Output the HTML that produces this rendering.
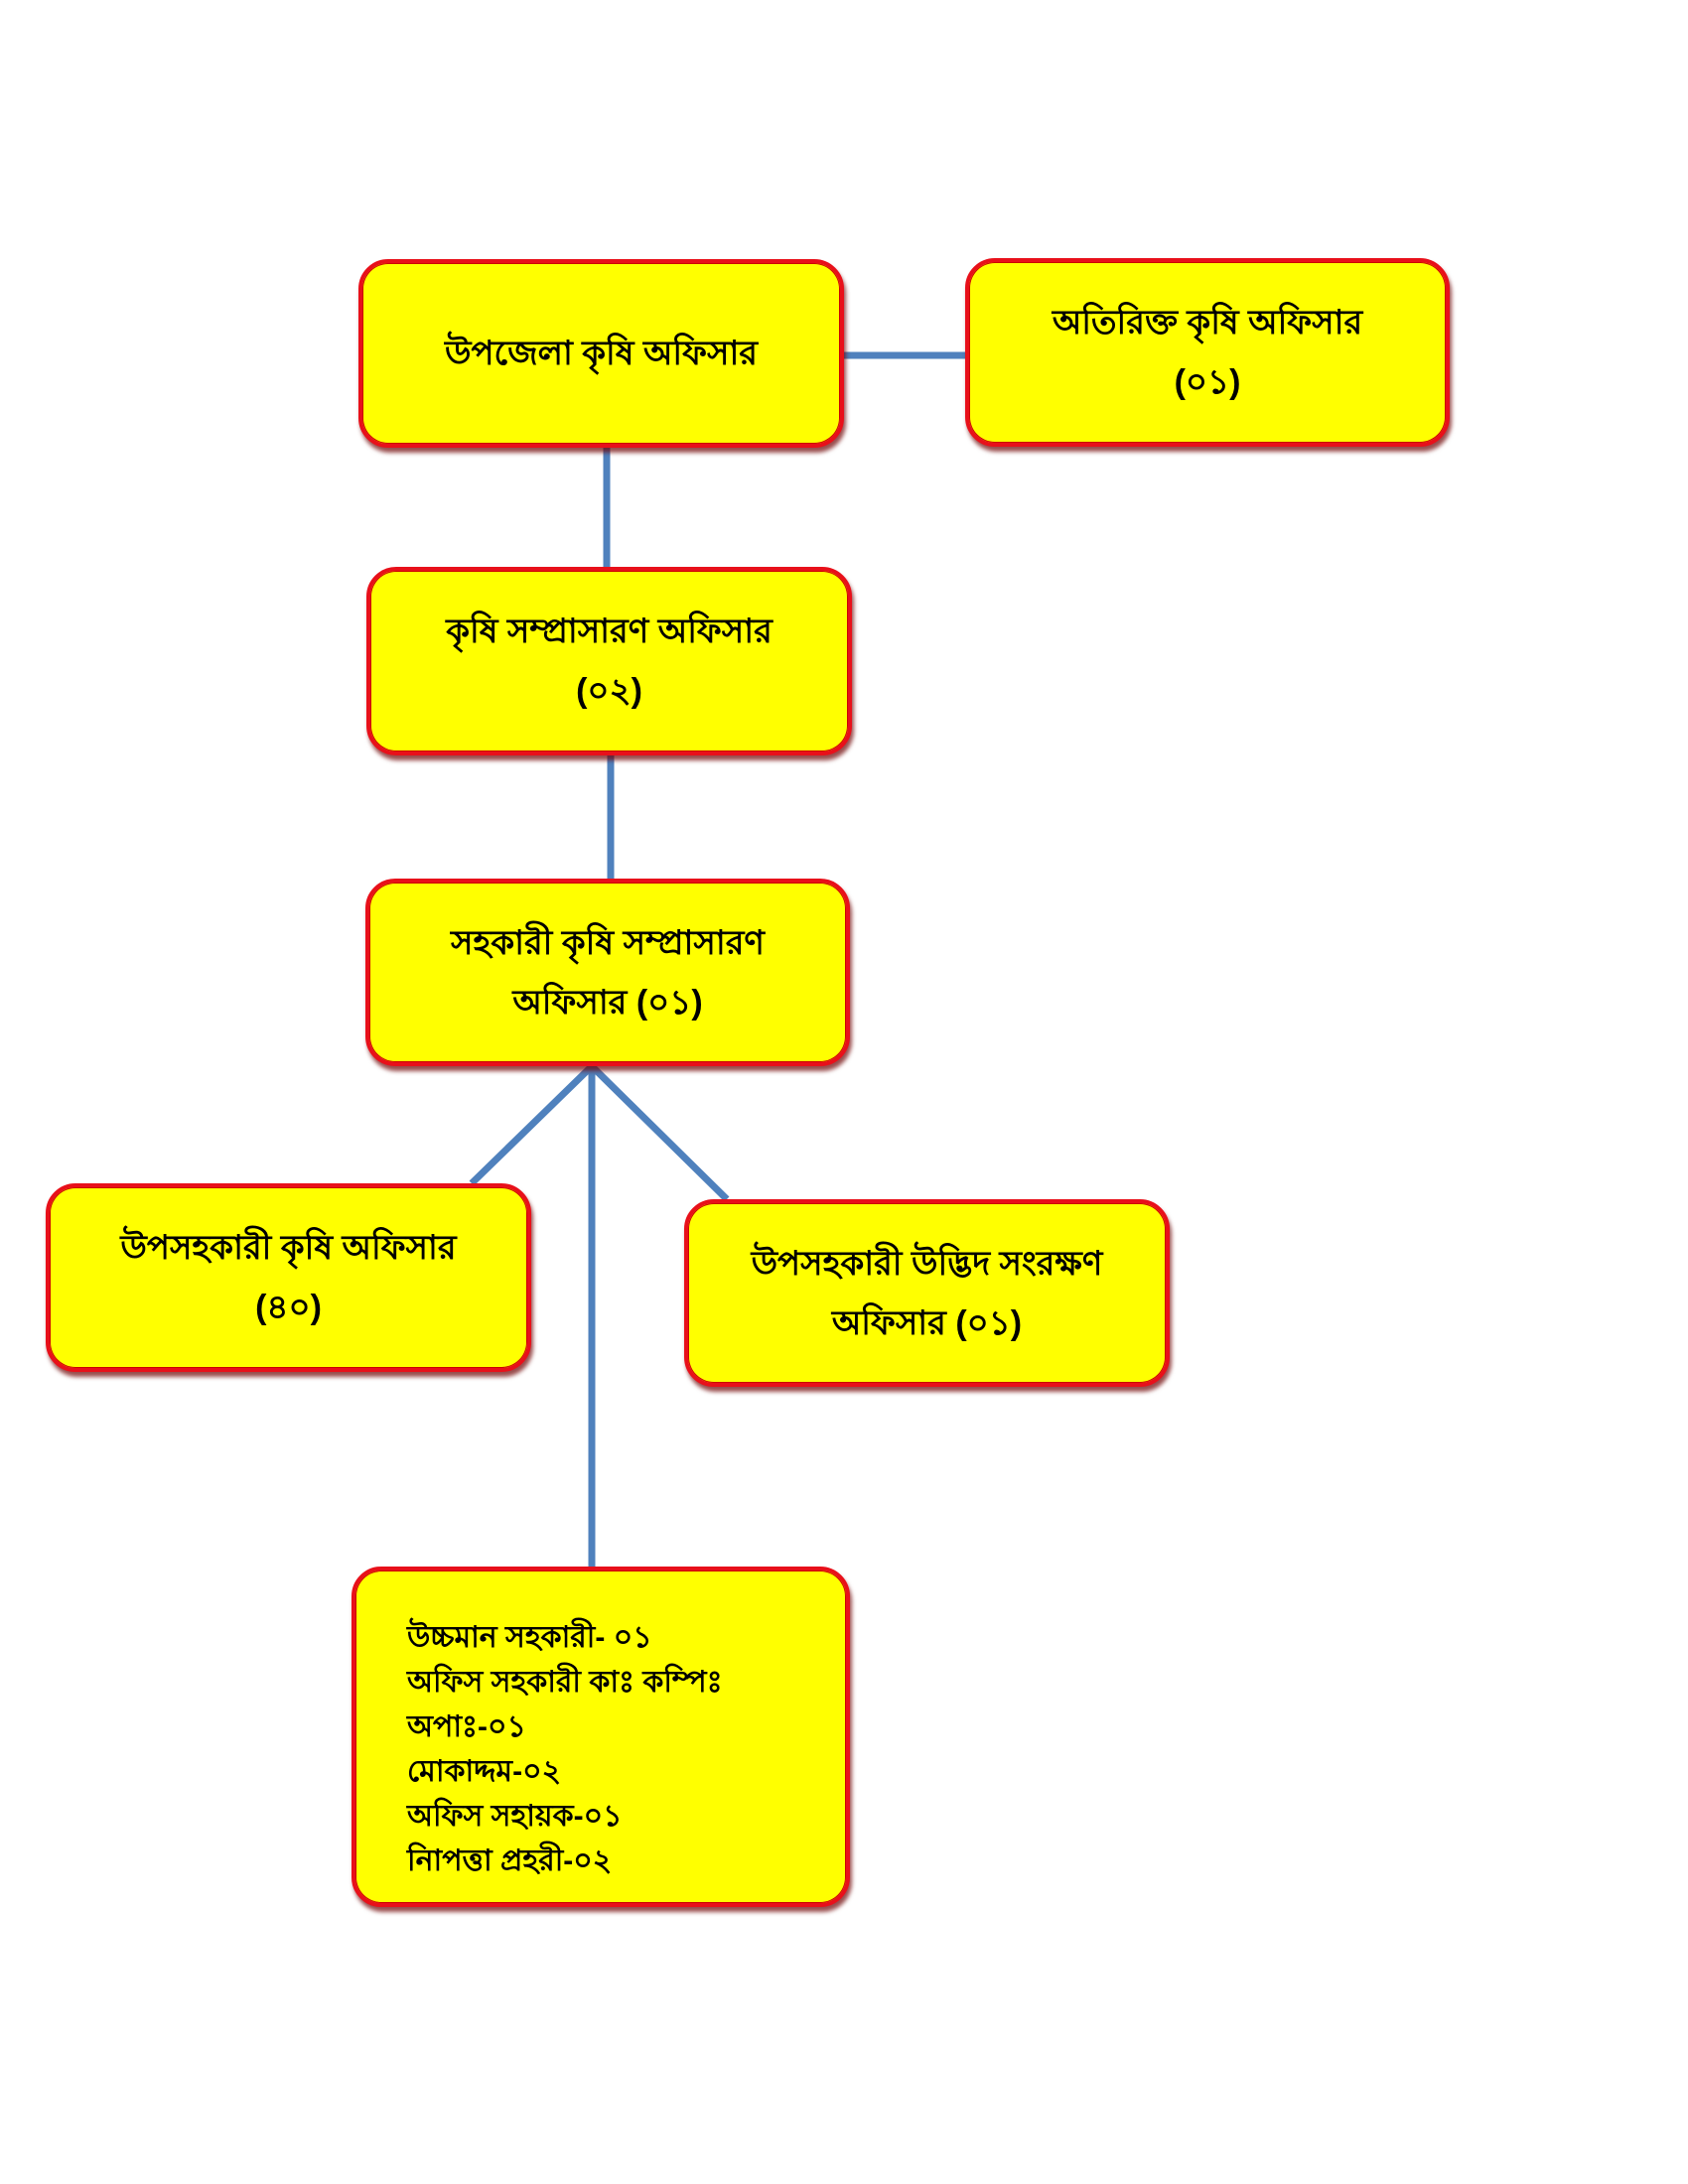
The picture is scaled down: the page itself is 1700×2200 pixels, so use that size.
<!DOCTYPE html>
<html><head><meta charset="utf-8"><style>
html,body{margin:0;padding:0;background:#fff;width:1700px;height:2200px;overflow:hidden;position:relative;font-family:"Liberation Sans","Noto Sans CJK SC",sans-serif;}
.b{position:absolute;box-sizing:border-box;background:#ffff00;border:4px solid #e8101a;border-radius:30px;box-shadow:2px 5px 4px rgba(110,0,0,0.7), inset 0 0 0 1px #c00;display:flex;align-items:center;justify-content:center;text-align:center;font-size:34px;font-weight:bold;line-height:60px;color:#000;}
svg{position:absolute;left:0;top:0;}
</style></head><body>
<svg width="1700" height="2200">
<g stroke="#4f81bd" stroke-width="7" fill="none">
<line x1="850" y1="358" x2="972" y2="358"/>
<line x1="611" y1="451" x2="611" y2="571"/>
<line x1="615" y1="761" x2="615" y2="885"/>
<line x1="596" y1="1074" x2="475" y2="1192"/>
<line x1="596" y1="1074" x2="732" y2="1208"/>
<line x1="596" y1="1074" x2="596" y2="1578"/>
</g></svg>
<div class="b" style="left:361px;top:261px;width:489px;height:190px">উপজেলা কৃষি অফিসার</div>
<div class="b" style="left:972px;top:260px;width:488px;height:190px">অতিরিক্ত কৃষি অফিসার<br>(০১)</div>
<div class="b" style="left:369px;top:571px;width:489px;height:190px">কৃষি সম্প্রাসারণ অফিসার<br>(০২)</div>
<div class="b" style="left:368px;top:885px;width:488px;height:189px">সহকারী কৃষি সম্প্রাসারণ<br>অফিসার (০১)</div>
<div class="b" style="left:46px;top:1192px;width:489px;height:190px">উপসহকারী কৃষি অফিসার<br>(৪০)</div>
<div class="b" style="left:689px;top:1208px;width:489px;height:189px">উপসহকারী উদ্ভিদ সংরক্ষণ<br>অফিসার (০১)</div>
<div class="b" style="left:354px;top:1578px;width:502px;height:343px;justify-content:flex-start;align-items:flex-start;text-align:left;font-size:30px;line-height:45px;padding:45px 0 0 52px">উচ্চমান সহকারী- ০১<br>অফিস সহকারী কাঃ কম্পিঃ<br>অপাঃ-০১<br>মোকাদ্দম-০২<br>অফিস সহায়ক-০১<br>নিাপত্তা প্রহরী-০২</div>
</body></html>
